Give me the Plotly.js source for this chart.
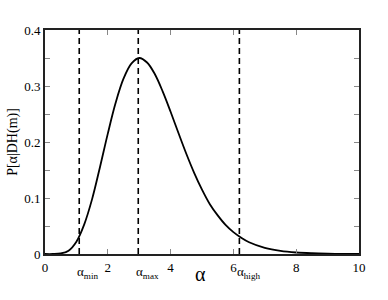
<!DOCTYPE html>
<html>
<head>
<meta charset="utf-8">
<script src="https://cdn.plot.ly/plotly-3.0.1.min.js"></script>
<style>html,body{margin:0;padding:0;background:#fff;}#chart{width:388px;height:300px;}</style>
</head>
<body>
<div id="chart"></div>
<script>
// Curve
var alphaValues = [0, 0.25, 0.5, 0.75, 1.0, 1.25, 1.5, 1.75, 2.0, 2.25, 2.5, 2.75, 3.0, 3.25, 3.5, 3.75, 4.0, 4.25, 4.5, 4.75, 5.0, 5.25, 5.5, 5.75, 6.0, 6.25, 6.5, 7.0, 7.5, 8.0, 8.5, 9.0, 9.5, 10];
var probValues = [0, 0, 0.001, 0.006, 0.022, 0.053, 0.098, 0.155, 0.215, 0.270, 0.313, 0.340, 0.350, 0.342, 0.321, 0.290, 0.254, 0.216, 0.179, 0.145, 0.115, 0.089, 0.069, 0.052, 0.039, 0.029, 0.021, 0.011, 0.0055, 0.0027, 0.0013, 0.0006, 0.0002, 0.0001];

// Marked alpha values (dashed lines) and their labels
var markerAlphas = [1.09, 2.97, 6.19];
var markerLabels = ['α<sub>min</sub>', 'α<sub>max</sub>', 'α<sub>high</sub>'];

var xTickVals = [0, 2, 4, 6, 8, 10];
var yTickVals = [0, 0.1, 0.2, 0.3, 0.4];
var yTickText = ['0', '0.1', '0.2', '0.3', '0.4'];
var yRange = [0, 0.4];
var xTitle = 'α';
var yTitle = 'P[α|DH(m)]';

var SERIF = "'Liberation Serif', 'Times New Roman', serif";

var traces = [];
markerAlphas.forEach(function (a) {
  traces.push({
    x: [a, a], y: yRange, mode: 'lines', type: 'scatter',
    line: {color: '#000', width: 1.6, dash: '6px,4px'},
    hoverinfo: 'skip', showlegend: false
  });
});
traces.push({
  x: alphaValues, y: probValues, mode: 'lines', type: 'scatter',
  line: {color: '#000', width: 1.8, shape: 'spline', smoothing: 1.0},
  showlegend: false
});

var annotations = markerAlphas.map(function (a, i) {
  return {
    x: a, y: 0, xref: 'x', yref: 'paper', yanchor: 'top', xanchor: 'left',
    xshift: -4, yshift: -8,
    text: markerLabels[i], showarrow: false,
    font: {family: SERIF, size: 13, color: '#000'}
  };
});
annotations.push({
  x: 5, y: 0, xref: 'x', yref: 'paper', yanchor: 'top', xanchor: 'center',
  xshift: -2, yshift: -7, text: xTitle, showarrow: false,
  font: {family: SERIF, size: 20, color: '#000'}
});

var layout = {
  width: 388, height: 300,
  margin: {l: 45, r: 29, t: 30, b: 46},
  paper_bgcolor: '#fff', plot_bgcolor: '#fff',
  font: {family: SERIF, size: 13, color: '#000'},
  showlegend: false,
  xaxis: {
    range: [0, 10], tickvals: xTickVals, ticktext: xTickVals.map(String),
    ticks: 'inside', ticklen: 5, tickwidth: 1, tickcolor: '#888',
    showline: true, linecolor: '#222', linewidth: 2, mirror: 'ticks',
    showgrid: false, zeroline: false,
    tickfont: {family: SERIF, size: 13, color: '#000'}
  },
  yaxis: {
    range: yRange, tickvals: yTickVals, ticktext: yTickText,
    ticks: 'inside', ticklen: 5, tickwidth: 1, tickcolor: '#888',
    minor: {dtick: 0.05, ticks: 'inside', ticklen: 5, tickwidth: 1, tickcolor: '#888', showgrid: false},
    showline: true, linecolor: '#222', linewidth: 2, mirror: 'ticks',
    showgrid: false, zeroline: false,
    tickfont: {family: SERIF, size: 13, color: '#000'},
    title: {text: yTitle, font: {family: SERIF, size: 14, color: '#000'}, standoff: 3}
  },
  annotations: annotations
};

Plotly.newPlot('chart', traces, layout, {displayModeBar: false, staticPlot: true});
</script>
</body>
</html>
